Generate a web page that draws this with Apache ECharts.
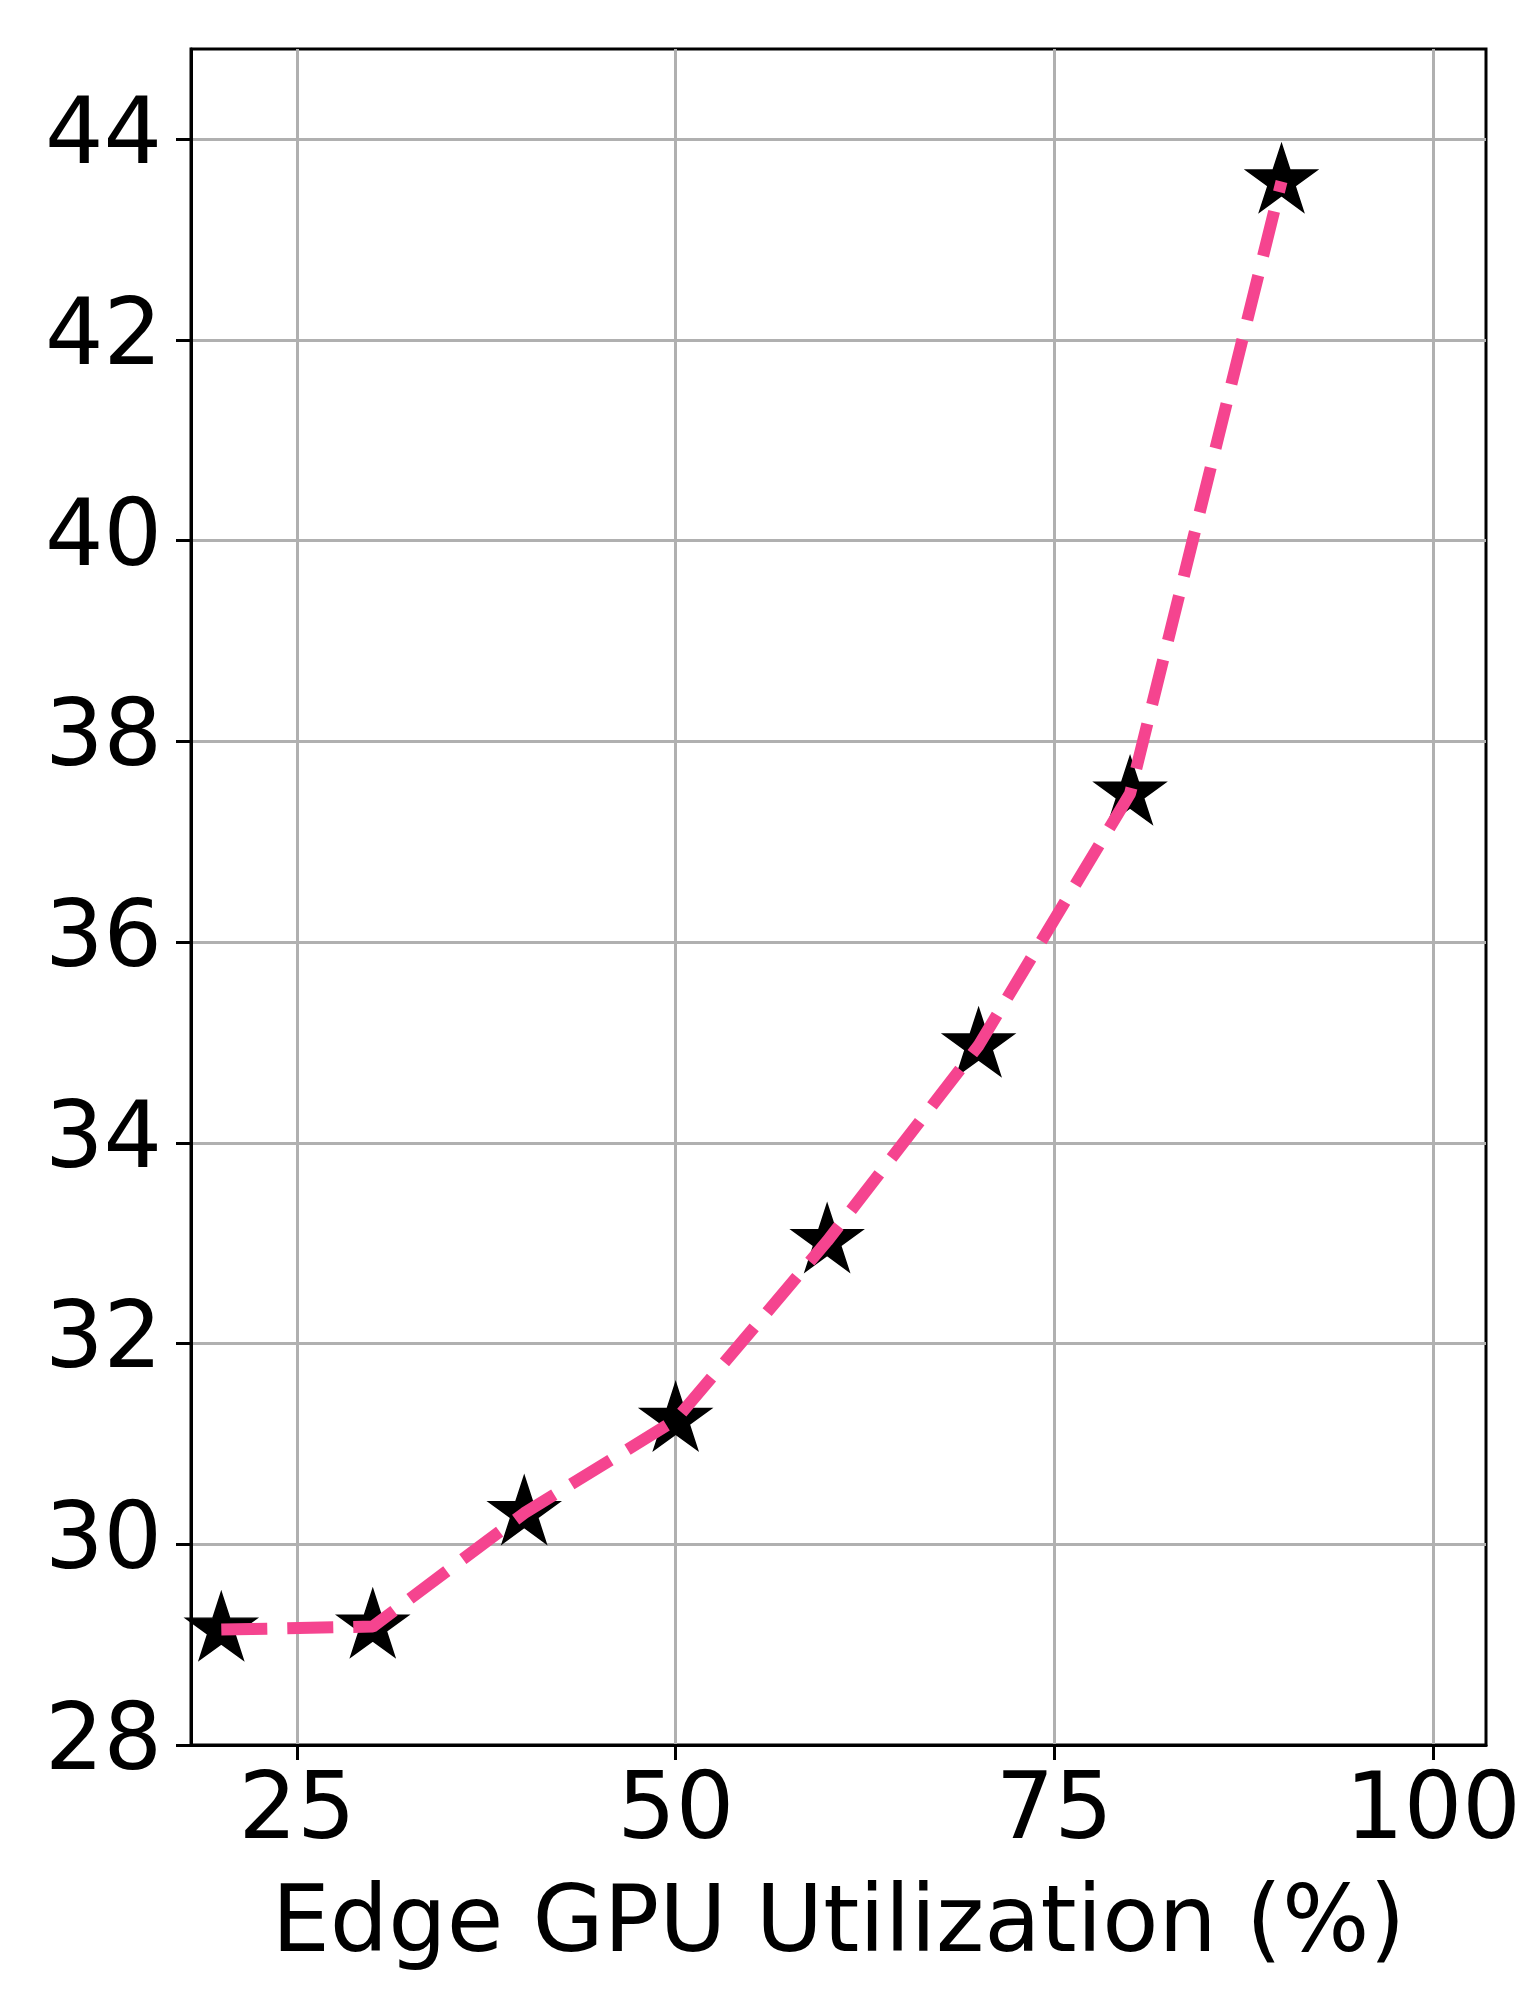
<!DOCTYPE html>
<html>
<head>
<meta charset="utf-8">
<script src="https://cdn.jsdelivr.net/npm/echarts@6/dist/echarts.min.js"></script>
<style>
  html, body { margin: 0; padding: 0; background: #fff; }
  #main { width: 1530px; height: 2010px; }
</style>
</head>
<body>
<div id="main"></div>
<script>
// values
const utilization = [20, 30, 40, 50, 60, 70, 80, 90];
const latency = [29.15, 29.18, 30.31, 31.24, 33.02, 34.97, 37.48, 43.58];
const xTicks = [25, 50, 75, 100];
const yTicks = [28, 30, 32, 34, 36, 38, 40, 42, 44];

const points = utilization.map((u, i) => [u, latency[i]]);

// five point star, same shape as the matplotlib '*' marker
const starPath = 'path://M0,-100 L22.45,-30.9 L95.11,-30.9 L36.33,11.8 L58.78,80.9 L0,38.2 L-58.78,80.9 L-36.33,11.8 L-95.11,-30.9 L-22.45,-30.9 Z';

const font = 'DejaVu Sans';
let chart = echarts.init(document.getElementById('main'), null, { renderer: 'canvas' });

let option = {
  backgroundColor: '#fff',
  animation: false,
  grid: {
    left: 191,
    right: 44,
    top: 49,
    bottom: 265,
    show: true,
    borderColor: '#000',
    borderWidth: 3,
    backgroundColor: 'transparent'
  },
  xAxis: {
    type: 'value',
    min: 18,
    max: 103.5,
    name: 'Edge GPU Utilization (%)',
    nameLocation: 'middle',
    nameGap: 136,
    nameTextStyle: { fontFamily: font, fontSize: 92, color: '#000' },
    axisLine: { show: true, lineStyle: { color: '#000', width: 3 } },
    axisTick: { show: true, length: 15, lineStyle: { color: '#000', width: 3 }, customValues: xTicks },
    axisLabel: { fontFamily: font, fontSize: 92, color: '#000', margin: 23, customValues: xTicks },
    splitLine: { show: true, lineStyle: { color: '#b0b0b0', width: 3 } }
  },
  yAxis: {
    type: 'value',
    min: 28,
    max: 44.9,
    axisLine: { show: true, lineStyle: { color: '#000', width: 3 } },
    axisTick: { show: true, length: 15, lineStyle: { color: '#000', width: 3 }, customValues: yTicks },
    axisLabel: { fontFamily: font, fontSize: 92, color: '#000', margin: 29, customValues: yTicks },
    splitLine: { show: true, lineStyle: { color: '#b0b0b0', width: 3 } }
  },
  series: [
    {
      type: 'scatter',
      data: points,
      symbol: starPath,
      symbolSize: [71, 67.5],
      // bbox centre sits a little above the star's centre
      symbolOffset: [0, -3.5],
      itemStyle: { color: '#000', opacity: 1, borderColor: '#000', borderWidth: 1.5 },
      z: 2
    },
    {
      type: 'line',
      data: points,
      showSymbol: false,
      lineStyle: { color: '#f5448f', width: 12, type: [46, 20], cap: 'butt' },
      z: 3
    }
  ]
};
chart.setOption(option);
</script>
</body>
</html>
